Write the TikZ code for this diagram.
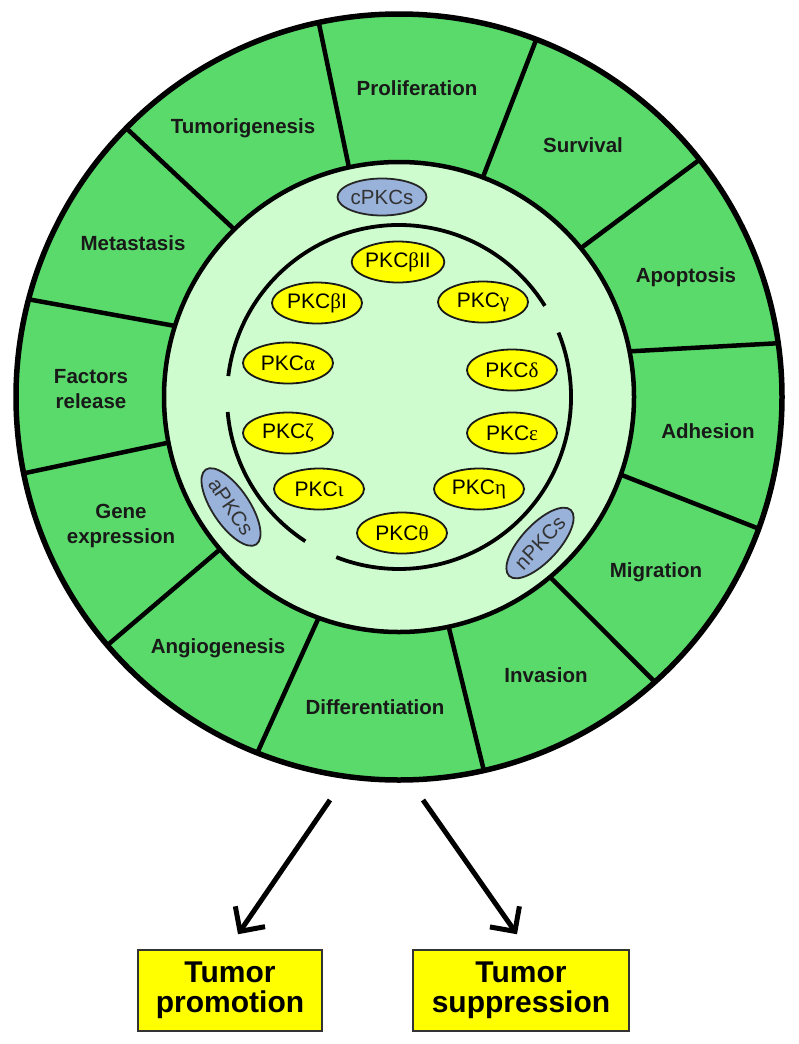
\documentclass[tikz,border=0pt]{standalone}
\usepackage{fontspec}
\setmainfont{Liberation Sans}
\newfontfamily\grk{Liberation Serif}
\usetikzlibrary{shapes.geometric,arrows.meta}
\definecolor{ringgreen}{RGB}{90,218,106}
\definecolor{coregreen}{RGB}{206,252,206}
\definecolor{pkcyellow}{RGB}{255,255,0}
\definecolor{grpblue}{RGB}{152,178,218}
\begin{document}
\begin{tikzpicture}[x=1pt,y=-1pt,
  ringline/.style={line width=5.5pt},
  divider/.style={line width=4.5pt},
  arcline/.style={line width=3.8pt},
  seglabel/.style={font=\fontsize{20.5}{25}\selectfont\bfseries, align=center, text=black!90, inner sep=0pt},
  pkc/.style={ellipse, draw=black!90, line width=1.8pt, fill=pkcyellow, minimum width=90pt, minimum height=41pt, inner sep=0pt, font=\fontsize{21}{24}\selectfont},
  grp/.style={ellipse, draw=black!85, line width=1.8pt, fill=grpblue, minimum width=89pt, minimum height=37pt, inner sep=0pt, font=\fontsize{20.5}{24}\selectfont, text=black!80},
  outbox/.style={draw=black!80, line width=1.5pt, fill=pkcyellow, minimum height=81pt, inner sep=0pt, align=center, font=\fontsize{30}{30}\selectfont\bfseries},
  bigarrow/.style={line width=5pt, -{Straight Barb[length=18pt,width=36pt]}}
]
\useasboundingbox (0,0) rectangle (798,1044);
\fill[white] (0,0) rectangle (798,1044);
\coordinate (c) at (399,397);
% rings
\draw[ringline, fill=ringgreen] (c) circle[radius=383];
\draw[line width=4.5pt, fill=coregreen] (c) circle[radius=235];
% dividers (inner angle / outer angle)
\foreach \a/\b in {-102.3/-102.1, -69.1/-69, -39.3/-38.3, -11.2/-8.1, 19.3/20.1, 50/48.1, 77.8/77.2, 110/111.7, 139.6/139.6, 168.8/168.5, -162.4/-165.2, -134.5/-135.4}
  \draw[divider] ([shift={(\a:235)}]c) -- ([shift={(\b:381)}]c);
% inner broken ring
\draw[arcline] ([shift={(-32:172)}]c) arc[start angle=-32, end angle=-173, radius=172];
\draw[arcline] ([shift={(-22:172)}]c) arc[start angle=-22, end angle=111.4, radius=172];
\draw[arcline] ([shift={(-185:172)}]c) arc[start angle=-185, end angle=-237, radius=172];
% PKC isoforms
\node[pkc] (b2) at (398,262) {PKC{\grk β}II};
\node[pkc] (b1) at (317,303) {PKC{\grk β}I};
\node[pkc] (ga) at (483,302) {PKC{\grk γ}};
\node[pkc] (al) at (288,363) {PKC{\grk α}};
\node[pkc] (de) at (512,370) {PKC{\grk δ}};
\node[pkc] (ze) at (288,433) {PKC{\grk ζ}};
\node[pkc] (ep) at (512,433) {PKC{\grk ε}};
\node[pkc] (io) at (319,489) {PKC{\grk ι}};
\node[pkc] (et) at (479,489) {PKC{\grk η}};
\node[pkc] (th) at (402,533) {PKC{\grk θ}};
% groups
\node[grp] (cpkc) at (382,197) {cPKCs};
\node[grp, rotate=-56] (apkc) at (231,507) {aPKCs};
\node[grp, rotate=47] (npkc) at (540,543) {nPKCs};
% segment labels
\node[seglabel] (prol) at (417,88) {Proliferation};
\node[seglabel] (surv) at (583,145) {Survival};
\node[seglabel] (apop) at (686,277) {Apoptosis};
\node[seglabel] (adhe) at (708,431) {Adhesion};
\node[seglabel] (migr) at (656,572) {Migration};
\node[seglabel] (inva) at (546,675) {Invasion};
\node[seglabel] (diff) at (375,707) {Differentiation};
\node[seglabel] (angi) at (218,648) {Angiogenesis};
\node[seglabel] (gene) at (121,526) {Gene\\expression};
\node[seglabel] (fact) at (91,389) {Factors\\release};
\node[seglabel] (meta) at (133,243) {Metastasis};
\node[seglabel] (tumo) at (243,128) {Tumorigenesis};
% outcome boxes
\node[outbox, minimum width=184pt] (prom) at (230,990.5) {Tumor\\promotion};
\node[outbox, minimum width=216pt] (supp) at (521,990.5) {Tumor\\suppression};
% arrows
\coordinate (s1) at (330,800);
\coordinate (s2) at (423,800);
\coordinate (t1) at ([xshift=8pt,yshift=15pt]prom.north);
\coordinate (t2) at ([xshift=-4pt,yshift=15pt]supp.north);
\draw[bigarrow] (s1) -- (t1);
\draw[bigarrow] (s2) -- (t2);
\end{tikzpicture}
\end{document}
